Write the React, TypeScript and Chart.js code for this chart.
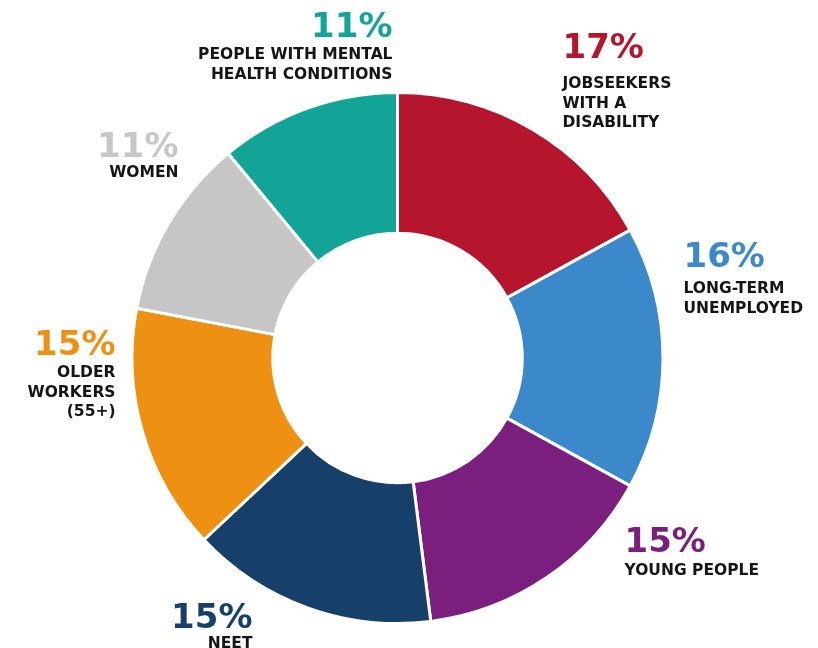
import React, { useEffect, useRef } from "react";
import { Chart, registerables } from "chart.js";

Chart.register(...registerables);

const categories: string[][] = [
  ["JOBSEEKERS", "WITH A", "DISABILITY"],
  ["LONG-TERM", "UNEMPLOYED"],
  ["YOUNG PEOPLE"],
  ["NEET"],
  ["OLDER", "WORKERS", "(55+)"],
  ["WOMEN"],
  ["PEOPLE WITH MENTAL", "HEALTH CONDITIONS"],
];
const shares: number[] = [17, 16, 15, 15, 15, 11, 11];
const sliceColors: string[] = [
  "#B5152D",
  "#3B88CA",
  "#7A1F7E",
  "#163F6A",
  "#EE9012",
  "#C6C6C6",
  "#12A597",
];

// label anchor offsets relative to the doughnut centre (text layout only)
const labelLayout: { dx: number; dy: number; align: CanvasTextAlign; gap: number }[] = [
  { dx: 165, dy: -300, align: "left", gap: 30 },
  { dx: 286, dy: -91, align: "left", gap: 26 },
  { dx: 227, dy: 194, align: "left", gap: 23 },
  { dx: -145, dy: 270, align: "right", gap: 20 },
  { dx: -282, dy: -3, align: "right", gap: 22 },
  { dx: -219, dy: -201, align: "right", gap: 20 },
  { dx: -5, dy: -321, align: "right", gap: 22 },
];

const FONT = '"DejaVu Sans", sans-serif';

const labelPlugin = {
  id: "sliceLabels",
  afterDraw(chart: any) {
    const meta = chart.getDatasetMeta(0);
    const arc = meta.data[0];
    if (!arc) return;
    const cx = arc.x;
    const cy = arc.y;
    const ctx = chart.ctx as CanvasRenderingContext2D;
    ctx.save();
    ctx.textBaseline = "alphabetic";
    shares.forEach((v, i) => {
      const L = labelLayout[i];
      const x = cx + L.dx;
      const y = cy + L.dy;
      ctx.textAlign = L.align;
      ctx.fillStyle = sliceColors[i];
      ctx.font = `bold 34px ${FONT}`;
      ctx.fillText(`${v}%`, x, y);
      ctx.fillStyle = "#151515";
      ctx.font = `bold 15.5px ${FONT}`;
      categories[i].forEach((line, j) => {
        ctx.fillText(line, x, y + L.gap + j * 19.5);
      });
    });
    ctx.restore();
  },
};

export default function App() {
  const ref = useRef<HTMLCanvasElement | null>(null);
  useEffect(() => {
    if (!ref.current) return;
    const chart = new Chart(ref.current, {
      type: "doughnut",
      data: {
        labels: categories.map((c) => c.join(" ")),
        datasets: [
          {
            data: shares,
            backgroundColor: sliceColors,
            borderColor: "#ffffff",
            borderWidth: 3,
            hoverOffset: 0,
          },
        ],
      },
      options: {
        responsive: false,
        animation: false,
        cutout: "47%",
        rotation: 0,
        layout: { padding: { top: 91, bottom: 23, left: 0, right: 23 } },
        plugins: {
          legend: { display: false },
          tooltip: { enabled: false },
        },
      },
      plugins: [labelPlugin],
    });
    return () => chart.destroy();
  }, []);
  return (
    <div style={{ position: "fixed", left: 0, top: 0, width: 818, height: 648, background: "#fff" }}>
      <canvas ref={ref} width={818} height={648} />
    </div>
  );
}
